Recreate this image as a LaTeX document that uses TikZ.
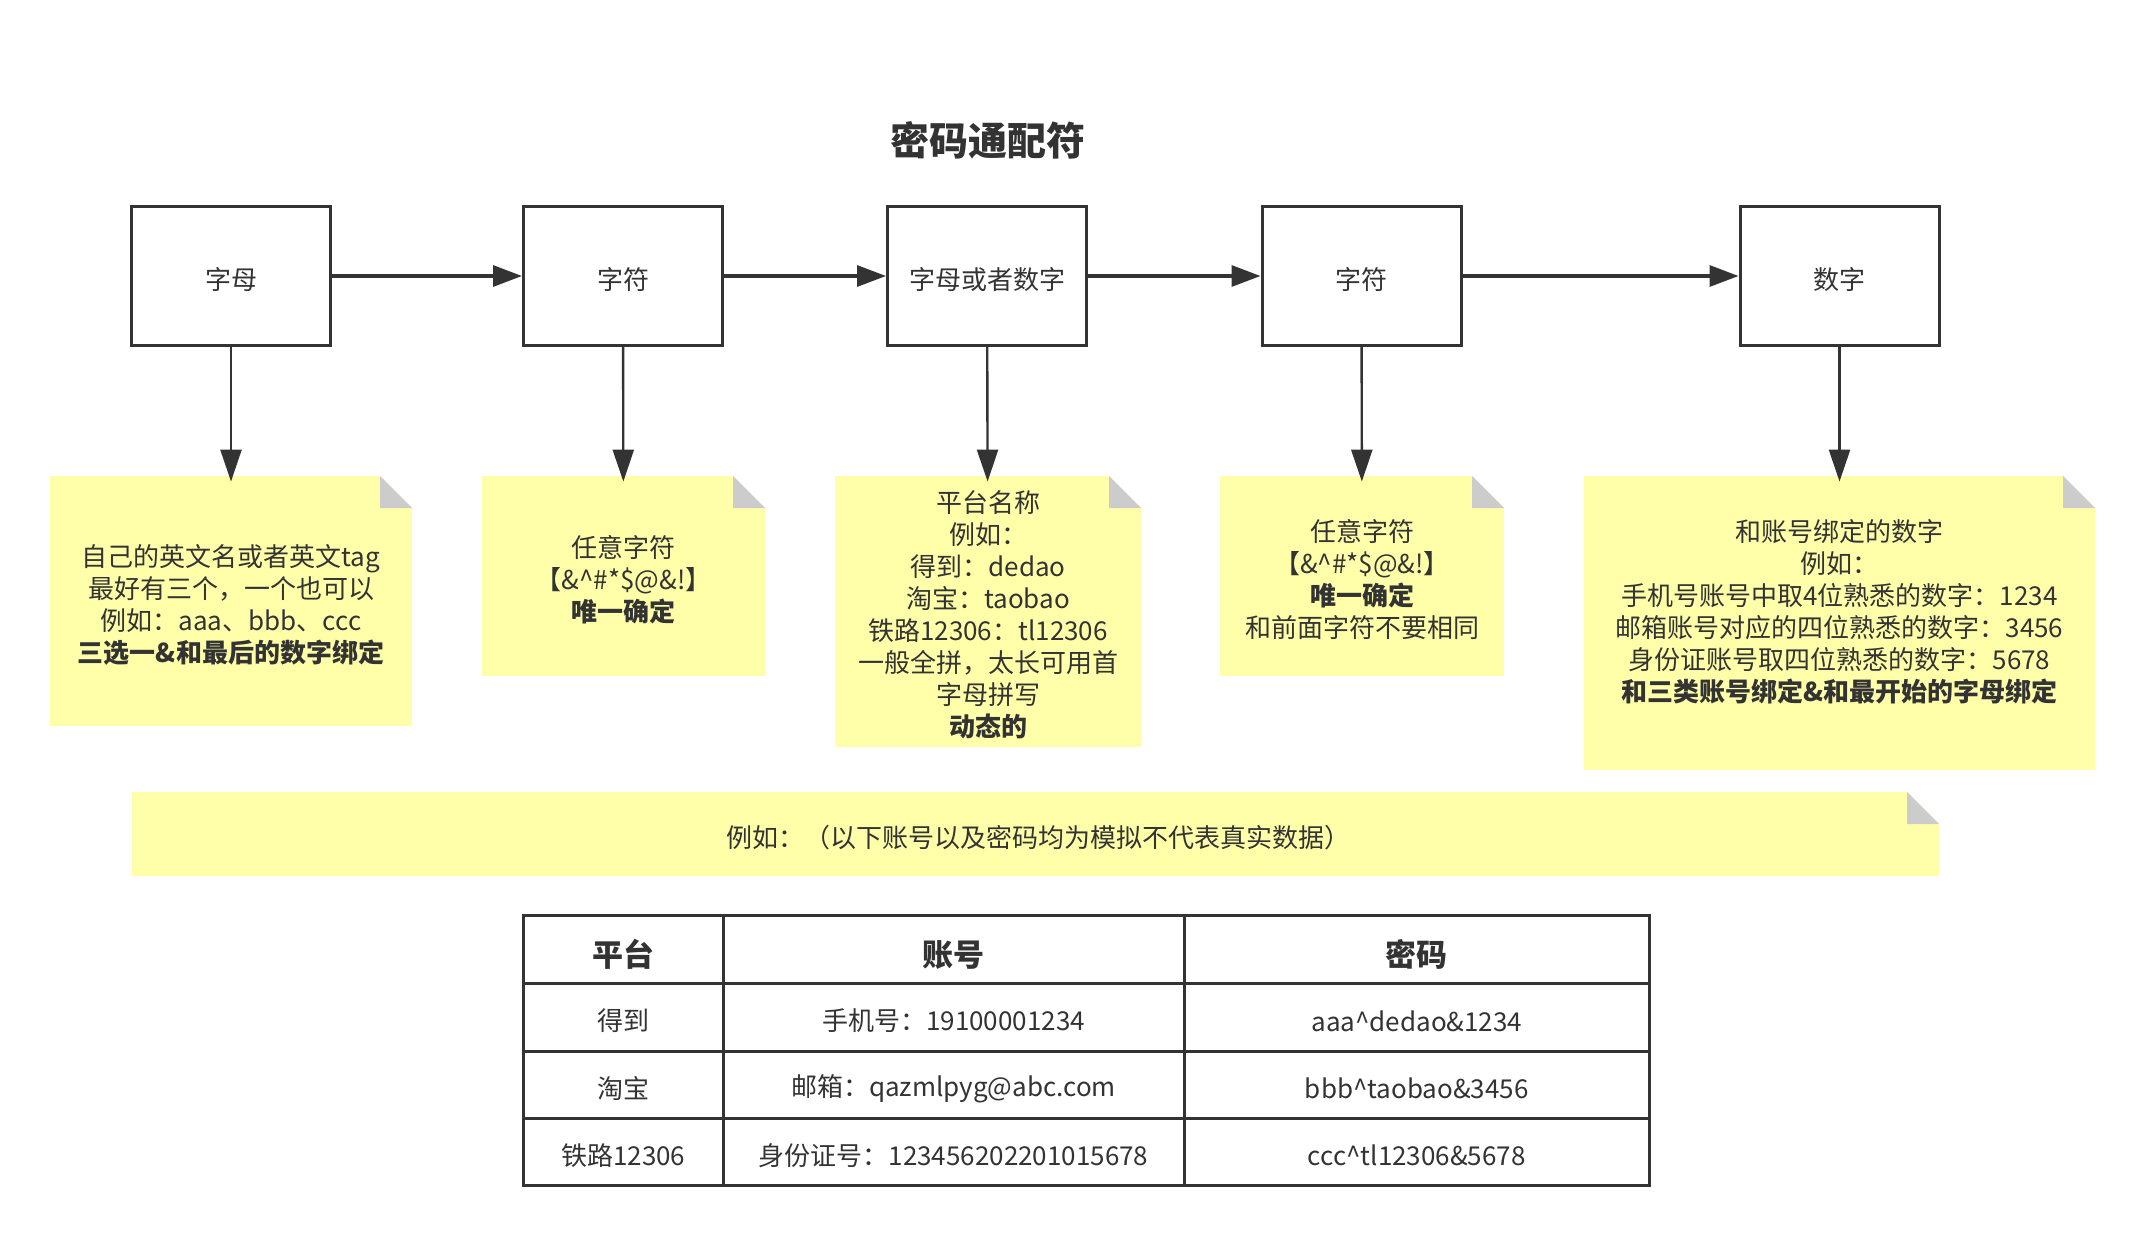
\documentclass[tikz,border=0pt]{standalone}
\usepackage{fontspec}
\setmainfont{Noto Sans CJK SC}
\usetikzlibrary{arrows.meta,calc}
\definecolor{ink}{HTML}{333333}
\definecolor{notey}{HTML}{FFFFAA}
\definecolor{foldg}{HTML}{CCCCCC}
\newcommand\lowr[1]{\raisebox{-2pt}[\height][\depth]{#1}}
\newcommand\lowh[1]{\raisebox{-2.7pt}[\height][\depth]{#1}}
\begin{document}
\begin{tikzpicture}[x=0.5pt,y=-0.5pt,
  box/.style={draw=ink,line width=1.5pt,fill=white,minimum width=99.5pt,minimum height=69.5pt,inner sep=0pt,text=ink,font=\fontsize{13}{16}\selectfont},
  note/.style={fill=notey,inner sep=0pt,path picture={
      \fill[white] (path picture bounding box.north east) -- ++(-16pt,0) -- ++(16pt,-16pt) -- cycle;
      \fill[foldg] ($(path picture bounding box.north east)+(-16pt,0)$) -- ++(0,-16pt) -- ++(16pt,0) -- cycle;}},
  ntext/.style={align=center,text=ink,font=\fontsize{13}{16}\selectfont,inner sep=0pt},
  harrow/.style={draw=ink,line width=1.6pt,-{Triangle[length=14.5pt,width=10.5pt]}},
  varrow/.style={draw=ink,line width=1.2pt,-{Triangle[length=16pt,width=10.5pt]},shorten >=-3pt},
  cell/.style={draw=ink,line width=1.5pt,inner sep=0pt,text=ink,font=\fontsize{13}{16}\selectfont},
  hcell/.style={cell,font=\fontsize{15.5}{18}\selectfont\bfseries},
]
\useasboundingbox (0,0) rectangle (2145,1236);

\node[text=ink,font=\fontsize{19.5}{22}\selectfont\bfseries] (title) at (988,140) {密码通配符};

% boxes
\node[box] (b1) at (231,276) {\lowr{字母}};
\node[box] (b2) at (623,276) {\lowr{字符}};
\node[box] (b3) at (987,276) {\lowr{字母或者数字}};
\node[box] (b4) at (1361.5,276) {\lowr{字符}};
\node[box] (b5) at (1839.5,276) {\lowr{数字}};

\draw[harrow] (b1) -- (b2);
\draw[harrow] (b2) -- (b3);
\draw[harrow] (b3) -- (b4);
\draw[harrow] (b4) -- (b5);

% notes
\node[note,minimum width=181pt,minimum height=125pt] (n1) at (231,601) {};
\node[note,minimum width=141.5pt,minimum height=100pt] (n2) at (623.5,576) {};
\node[note,minimum width=153pt,minimum height=135.5pt] (n3) at (988,611.5) {};
\node[note,minimum width=142pt,minimum height=100pt] (n4) at (1362,576) {};
\node[note,minimum width=255.5pt,minimum height=147pt] (n5) at (1839.5,623) {};
\node[note,minimum width=903.5pt,minimum height=42pt] (n6) at (1035.5,834) {};

\draw[varrow] (b1) -- (n1);
\draw[varrow] (b2) -- (n2);
\draw[varrow] (b3) -- (n3);
\draw[varrow] (b4) -- (n4);
\draw[varrow] (b5) -- (n5);

\node[ntext] (t1) at (231,605) {自己的英文名或者英文tag\\最好有三个，一个也可以\\例如：aaa、bbb、ccc\\\textbf{三选一\&和最后的数字绑定}};
\node[ntext] (t2) at (623.5,580) {任意字符\\【\&\^{}\#*\$@\&!】\\\textbf{唯一确定}};
\node[ntext] (t3) at (988,615) {平台名称\\例如：\\得到：dedao\\淘宝：taobao\\铁路12306：tl12306\\一般全拼，太长可用首\\字母拼写\\\textbf{动态的}};
\node[ntext] (t4) at (1362,580) {任意字符\\【\&\^{}\#*\$@\&!】\\\textbf{唯一确定}\\和前面字符不要相同};
\node[ntext] (t5) at (1839.5,612) {和账号绑定的数字\\例如：\\手机号账号中取4位熟悉的数字：1234\\邮箱账号对应的四位熟悉的数字：3456\\身份证账号取四位熟悉的数字：5678\\\textbf{和三类账号绑定\&和最开始的字母绑定}};
\node[ntext] (t6) at (1038,838) {例如：（以下账号以及密码均为模拟不代表真实数据）};

% table
\node[hcell,minimum width=99.75pt,minimum height=33.75pt] (c11) at (623.25,949.25) {\lowh{平台}};
\node[hcell,minimum width=230.5pt,minimum height=33.75pt] (c12) at (953.5,949.25) {\lowh{账号}};
\node[hcell,minimum width=232.75pt,minimum height=33.75pt] (c13) at (1416.75,949.25) {\lowh{密码}};
\node[cell,minimum width=99.75pt,minimum height=34pt] (c21) at (623.25,1017) {\lowr{得到}};
\node[cell,minimum width=230.5pt,minimum height=34pt] (c22) at (953.5,1017) {\lowr{手机号：19100001234}};
\node[cell,minimum width=232.75pt,minimum height=34pt] (c23) at (1416.75,1017) {\lowr{aaa\^{}dedao\&1234}};
\node[cell,minimum width=99.75pt,minimum height=33.5pt] (c31) at (623.25,1084.5) {\lowr{淘宝}};
\node[cell,minimum width=230.5pt,minimum height=33.5pt] (c32) at (953.5,1084.5) {\lowr{邮箱：qazmlpyg@abc.com}};
\node[cell,minimum width=232.75pt,minimum height=33.5pt] (c33) at (1416.75,1084.5) {\lowr{bbb\^{}taobao\&3456}};
\node[cell,minimum width=99.75pt,minimum height=33.75pt] (c41) at (623.25,1151.75) {\lowr{铁路12306}};
\node[cell,minimum width=230.5pt,minimum height=33.75pt] (c42) at (953.5,1151.75) {\lowr{身份证号：123456202201015678}};
\node[cell,minimum width=232.75pt,minimum height=33.75pt] (c43) at (1416.75,1151.75) {\lowr{ccc\^{}tl12306\&5678}};
\end{tikzpicture}
\end{document}
